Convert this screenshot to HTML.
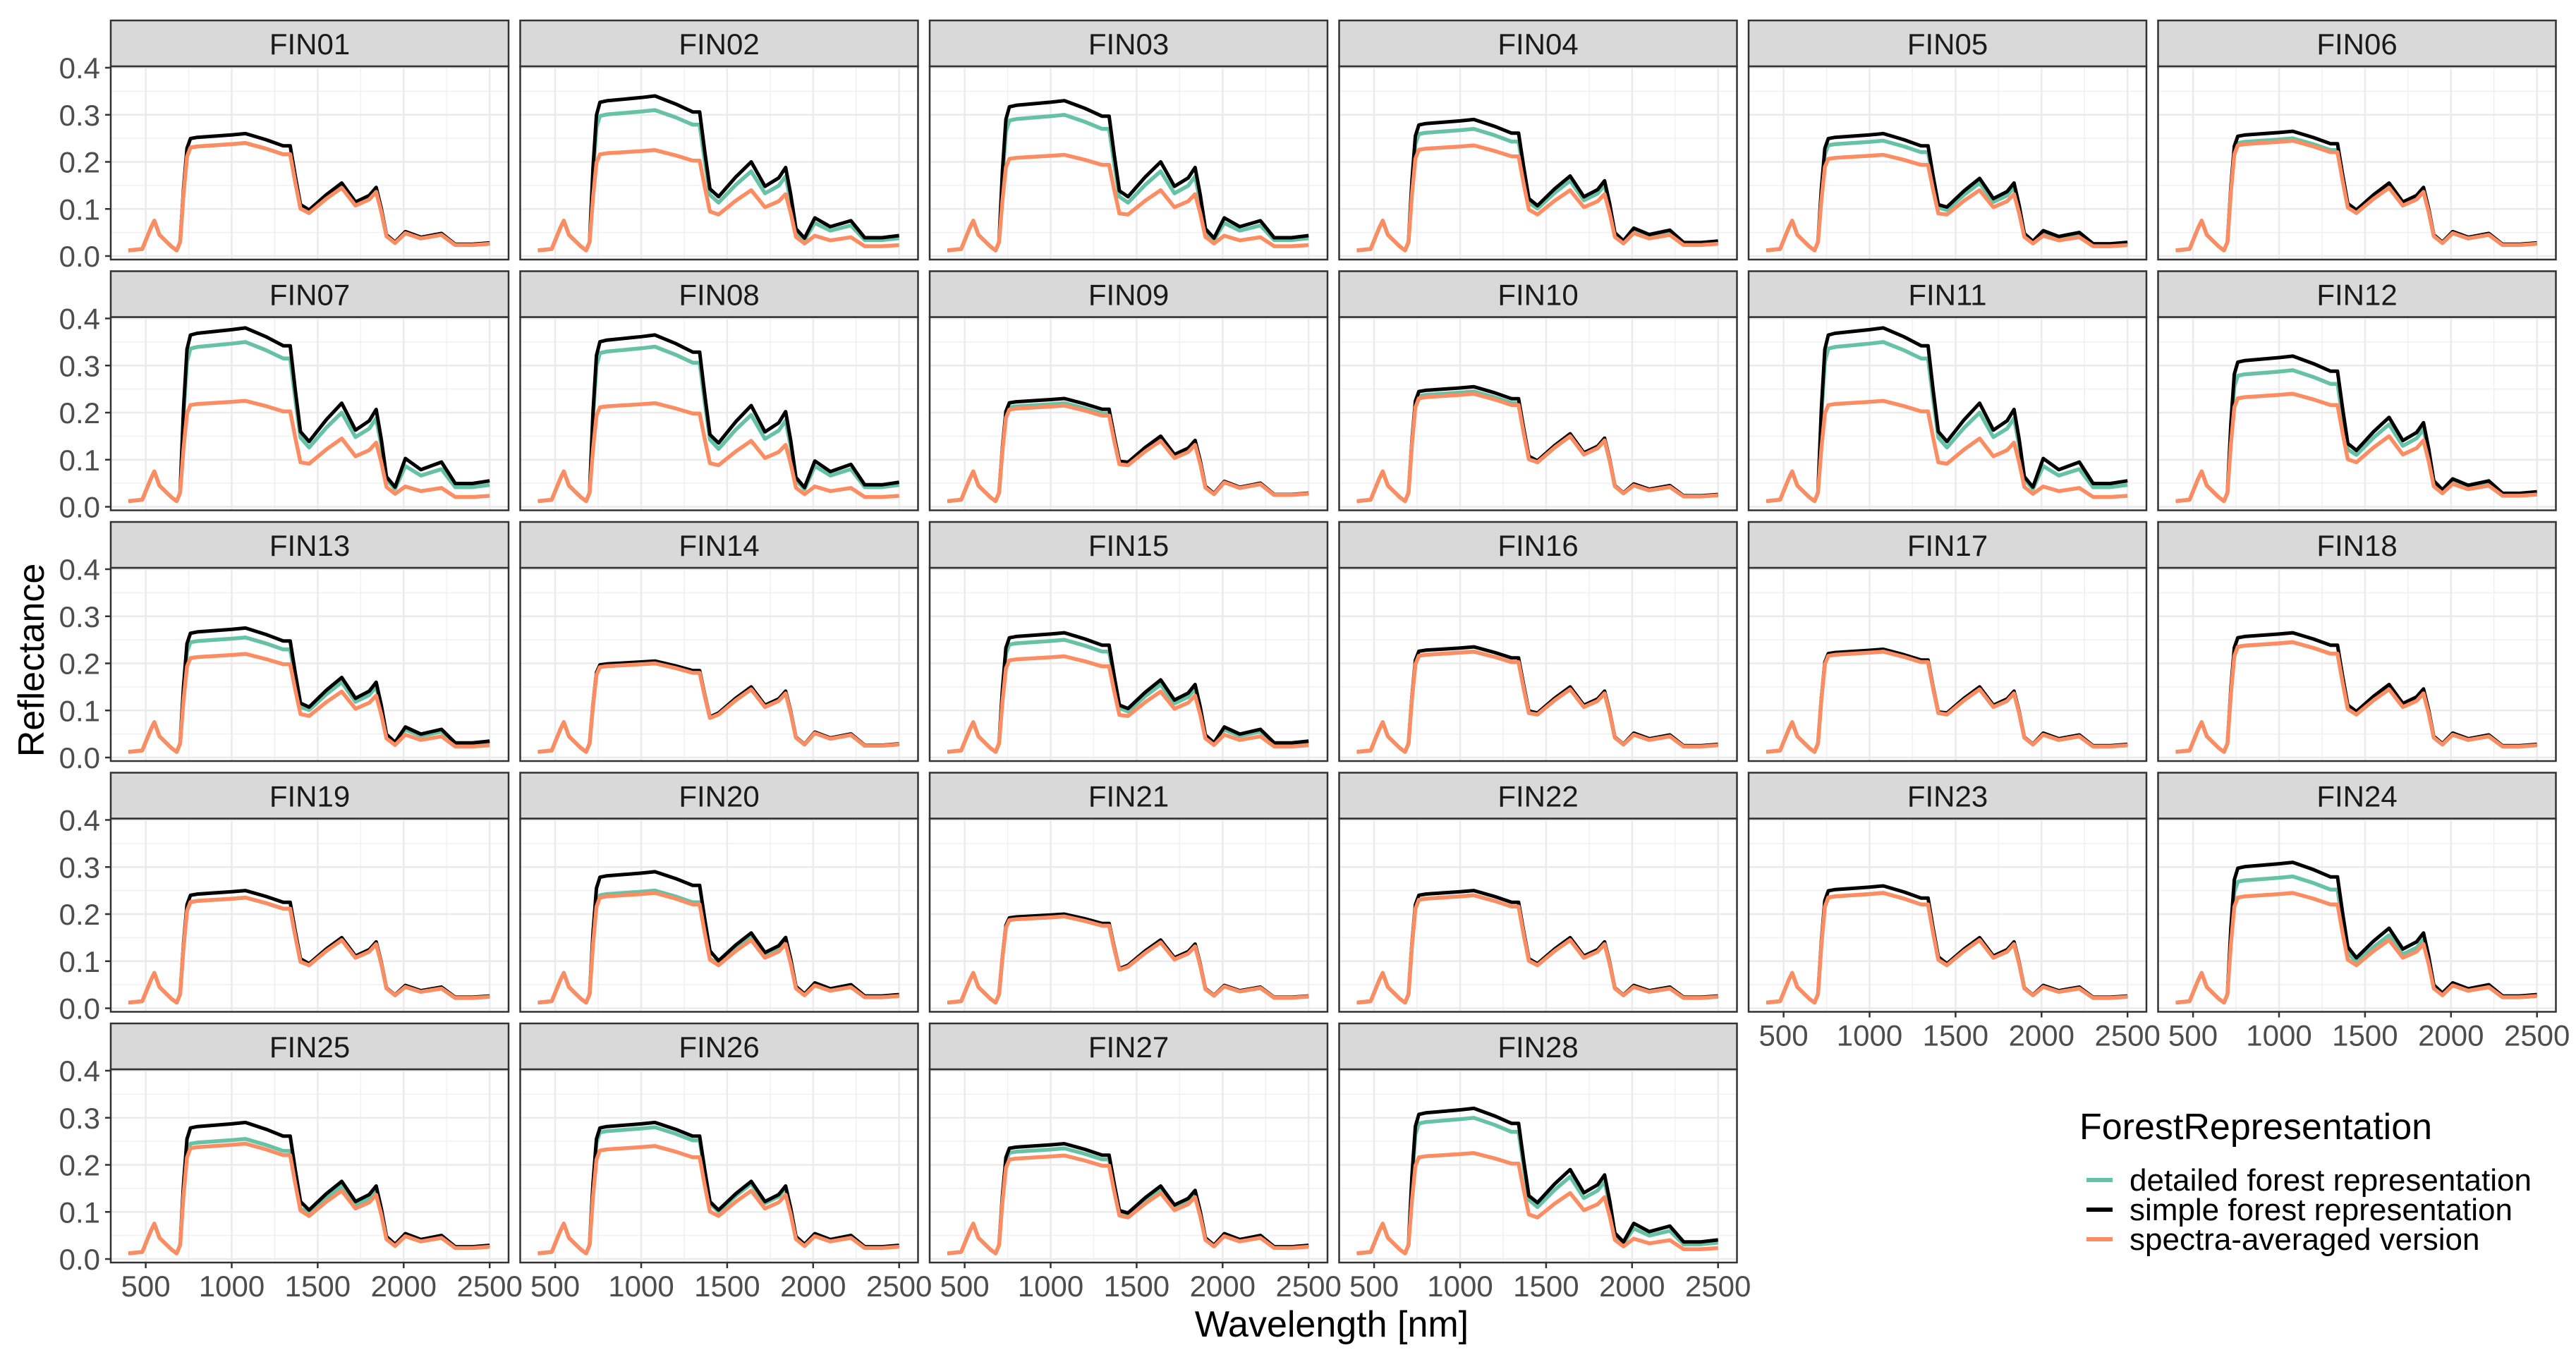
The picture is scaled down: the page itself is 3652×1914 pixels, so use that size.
<!DOCTYPE html>
<html><head><meta charset="utf-8">
<style>
html,body{margin:0;padding:0;background:#fff;}
svg{display:block;font-family:"Liberation Sans",Arial,sans-serif;}
</style></head>
<body>
<svg id="chart" width="3652" height="1914" viewBox="0 0 3652 1914" xmlns="http://www.w3.org/2000/svg"></svg>
<script>
// ---- data ----
const panels = ["FIN01","FIN02","FIN03","FIN04","FIN05","FIN06","FIN07","FIN08","FIN09","FIN10","FIN11","FIN12","FIN13","FIN14","FIN15","FIN16","FIN17","FIN18","FIN19","FIN20","FIN21","FIN22","FIN23","FIN24","FIN25","FIN26","FIN27","FIN28"];
const seriesNames = ["detailed forest representation","simple forest representation","spectra-averaged version"];
const wavelengths = [400,480,530,550,580,650,680,700,720,740,760,800,1000,1080,1200,1300,1340,1370,1400,1450,1550,1640,1720,1800,1840,1870,1900,1950,2010,2100,2220,2300,2400,2500];
// visible-range reflectance (shared)
const visibleValues = [0.012,0.015,0.06,0.075,0.045,0.02,0.012,0.03];
// relative spectral shape (NIR plateau, SWIR1, SWIR2 parts)
const nirShape = [0.55,0.88,0.96,0.97,0.99,1.0,0.95,0.9,0.9,0.65,0.42];
const swir1Shape = [0.63,0.84,1.0,0.74,0.83,0.94,0.65,0.29,0.19];
const swir2Shape = [1.08,0.83,1.0,0.52,0.52,0.58];
// per panel levels: [detailed, simple, averaged]
const plateau = [[.24,.26,.24],[.31,.34,.225],[.30,.33,.215],[.27,.29,.235],[.245,.26,.215],[.25,.265,.245],[.35,.38,.225],[.34,.365,.22],[.22,.23,.215],[.245,.255,.24],[.35,.38,.225],[.29,.32,.24],[.255,.275,.22],[.20,.205,.20],[.25,.265,.215],[.225,.235,.225],[.225,.23,.225],[.245,.265,.245],[.235,.25,.235],[.25,.29,.245],[.195,.20,.195],[.24,.25,.24],[.245,.26,.245],[.28,.31,.245],[.255,.29,.245],[.28,.29,.24],[.235,.245,.22],[.30,.32,.225]];
const swir1Peak = [[.145,.155,.145],[.18,.20,.14],[.18,.20,.14],[.16,.17,.14],[.155,.165,.14],[.145,.155,.145],[.20,.22,.145],[.195,.215,.14],[.145,.15,.14],[.15,.155,.15],[.20,.22,.145],[.175,.19,.15],[.16,.17,.14],[.145,.15,.145],[.155,.165,.14],[.145,.15,.145],[.145,.15,.145],[.145,.155,.145],[.145,.15,.145],[.15,.16,.145],[.14,.145,.14],[.145,.15,.145],[.145,.15,.145],[.155,.17,.145],[.155,.165,.145],[.16,.165,.145],[.15,.155,.14],[.175,.19,.14]];
const swir2Peak = [[.045,.048,.045],[.065,.075,.04],[.065,.075,.04],[.05,.055,.045],[.045,.05,.04],[.045,.048,.045],[.08,.095,.04],[.08,.09,.04],[.048,.05,.048],[.042,.045,.042],[.08,.095,.04],[.05,.055,.045],[.055,.06,.045],[.048,.05,.048],[.055,.06,.045],[.045,.048,.045],[.045,.048,.045],[.045,.048,.045],[.042,.045,.042],[.045,.05,.045],[.043,.045,.043],[.042,.045,.042],[.042,.045,.042],[.045,.05,.045],[.045,.05,.045],[.048,.05,.045],[.048,.05,.045],[.06,.07,.04]];
const yTicks = [0.0,0.1,0.2,0.3,0.4];
const yTickLabels = ["0.0","0.1","0.2","0.3","0.4"];
const xTicks = [500,1000,1500,2000,2500];
const xTickLabels = ["500","1000","1500","2000","2500"];

// ---- layout ----
const NS="http://www.w3.org/2000/svg";
const svg=document.getElementById('chart');
const colors=["#66c2a5","#000000","#fc8d62"];
const drawOrder=[0,1,2];
const left0=157, colPitch=580.5, panelW=564;
const top0=29, rowPitch=355.5, stripH=65, plotH=274;
const xMin=500-49.6/487.6*2000, xMax=xMin+564/487.6*2000;
function X(w,px){return px+(w-xMin)/(xMax-xMin)*panelW;}
function Y(v,py){return py+269-v*667.5;} // 0 at py+269, 0.4 at py+2
function mk(tag,attrs,parent){const e=document.createElementNS(NS,tag);for(const k in attrs)e.setAttribute(k,attrs[k]);(parent||svg).appendChild(e);return e;}
function seriesValues(p,s){
  const P=plateau[p][s],S=swir1Peak[p][s],T=swir2Peak[p][s];
  return visibleValues.concat(nirShape.map(f=>f*P),swir1Shape.map(f=>f*S),swir2Shape.map(f=>f*T));
}
panels.forEach((name,i)=>{
  const r=Math.floor(i/6),c=i%6;
  const px=left0+c*colPitch, sy=top0+r*rowPitch, py=sy+stripH;
  const g=mk('g',{});
  
  
  mk('rect',{x:px,y:py,width:panelW,height:plotH,fill:'#fff'},g);
  // minor grid
  [0.05,0.15,0.25,0.35].forEach(v=>mk('line',{x1:px,x2:px+panelW,y1:Y(v,py),y2:Y(v,py),stroke:'#f0f0f0','stroke-width':1.5},g));
  [750,1250,1750,2250].forEach(w=>mk('line',{x1:X(w,px),x2:X(w,px),y1:py,y2:py+plotH,stroke:'#f0f0f0','stroke-width':1.5},g));
  yTicks.forEach(v=>mk('line',{x1:px,x2:px+panelW,y1:Y(v,py),y2:Y(v,py),stroke:'#ebebeb','stroke-width':2.5},g));
  xTicks.forEach(w=>mk('line',{x1:X(w,px),x2:X(w,px),y1:py,y2:py+plotH,stroke:'#ebebeb','stroke-width':2.5},g));
  drawOrder.forEach(s=>{
    const vals=seriesValues(i,s);
    const d=vals.map((v,k)=>(k?'L':'M')+X(wavelengths[k],px).toFixed(1)+','+Y(v,py).toFixed(1)).join('');
    const pl=mk('path',{d:d,fill:'none',stroke:colors[s],'stroke-width':s===1?5:5.5,'stroke-linejoin':'round'},g);
    
    
  });
  mk('rect',{x:px,y:py,width:panelW,height:plotH,fill:'none',stroke:'#333','stroke-width':2.5},g);
  const st=mk('rect',{x:px,y:sy,width:panelW,height:stripH,fill:'#d9d9d9',stroke:'#333','stroke-width':2.5},g);
  
  
  const t=mk('text',{x:px+panelW/2,y:sy+48,'text-anchor':'middle','font-size':42,fill:'#1a1a1a'},g);
  t.textContent=name;
  
  
  if(c===0){
    yTicks.forEach((v,k)=>{
      mk('line',{x1:px-8,x2:px,y1:Y(v,py),y2:Y(v,py),stroke:'#333','stroke-width':2.5},g);
      const yt=mk('text',{x:px-15,y:Y(v,py)+15,'text-anchor':'end','font-size':42,fill:'#4d4d4d'},g);
      yt.textContent=yTickLabels[k];
      
      
    });
  }
  if(r===4||(r===3&&c>=4)){
    xTicks.forEach((w,k)=>{
      mk('line',{x1:X(w,px),x2:X(w,px),y1:py+plotH,y2:py+plotH+8,stroke:'#333','stroke-width':2.5},g);
      const xt=mk('text',{x:X(w,px),y:py+plotH+48,'text-anchor':'middle','font-size':42,fill:'#4d4d4d'},g);
      xt.textContent=xTickLabels[k];
      
      
    });
  }
});
const xt=mk('text',{x:1888,y:1895,'text-anchor':'middle','font-size':52,fill:'#000'});
xt.textContent='Wavelength [nm]';


const yt=mk('text',{x:0,y:0,'text-anchor':'middle','font-size':52,fill:'#000',transform:'translate(62,936) rotate(-90)'});
yt.textContent='Reflectance';


const lg=mk('g',{});


const lt=mk('text',{x:2948,y:1615,'font-size':52,fill:'#000'},lg);
lt.textContent='ForestRepresentation';


seriesNames.forEach((n,k)=>{
  const yy=1673+k*42;
  mk('line',{x1:2958,x2:2995,y1:yy,y2:yy,stroke:colors[k],'stroke-width':6},lg);
  const tx=mk('text',{x:3019,y:yy+15,'font-size':44,fill:'#000'},lg);
  tx.textContent=n;
  
  
});
</script>
</body></html>
